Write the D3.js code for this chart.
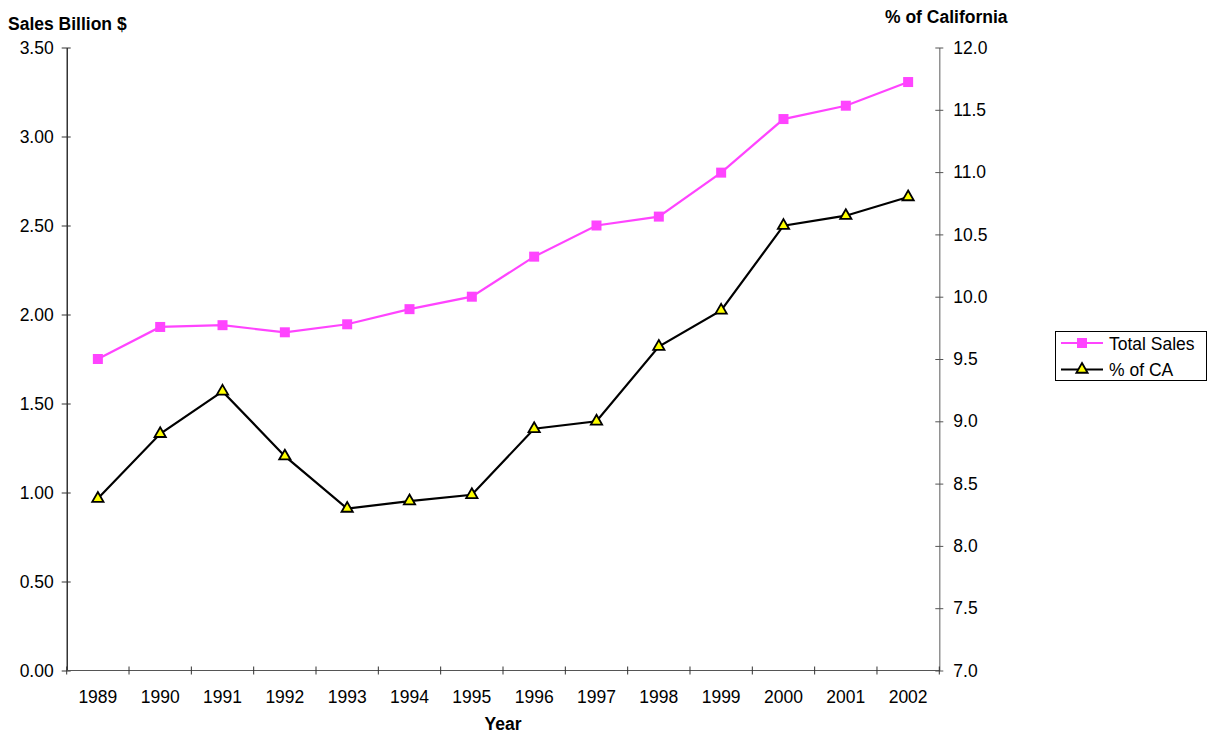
<!DOCTYPE html>
<html>
<head>
<meta charset="utf-8">
<script src="https://cdn.jsdelivr.net/npm/d3@7"></script>
<style>
  html, body { margin: 0; padding: 0; background: #fff; }
  svg { display: block; font-family: "Liberation Sans", Arial, sans-serif; }
</style>
</head>
<body>
<svg id="chart" width="1211" height="734"></svg>
<script>
// Yearly figures
const years = ["1989","1990","1991","1992","1993","1994","1995","1996","1997","1998","1999","2000","2001","2002"];
const totalSales = [1.75, 1.93, 1.94, 1.90, 1.945, 2.03, 2.10, 2.325, 2.50, 2.55, 2.797, 3.098, 3.173, 3.306];
const pctOfCA = [8.38, 8.90, 9.24, 8.72, 8.30, 8.36, 8.41, 8.94, 9.00, 9.60, 9.89, 10.57, 10.65, 10.80];
const leftTicks = [0, 0.5, 1.0, 1.5, 2.0, 2.5, 3.0, 3.5];
const rightTicks = [7.0, 7.5, 8.0, 8.5, 9.0, 9.5, 10.0, 10.5, 11.0, 11.5, 12.0];
const seriesNames = ["Total Sales", "% of CA"];

const svg = d3.select("#chart");
const plot = { left: 66.7, right: 939.3, top: 47.5, bottom: 670.5 };

const x = d3.scaleBand().domain(years).range([plot.left, plot.right]);
const yL = d3.scaleLinear().domain([0, 3.5]).range([plot.bottom, plot.top]);
const yR = d3.scaleLinear().domain([7, 12]).range([plot.bottom, plot.top]);

const fontSize = 17.5;

// Left axis
const leftAxis = svg.append("g")
  .attr("transform", `translate(${plot.left},0)`)
  .call(d3.axisLeft(yL).tickValues(leftTicks).tickFormat(d3.format(".2f")).tickSizeInner(5).tickSizeOuter(0).tickPadding(5));
leftAxis.select(".domain").attr("stroke", "#000").attr("stroke-width", 1.2);
leftAxis.selectAll(".tick line").attr("x2", 4).attr("x1", -5).attr("stroke", "#333");
leftAxis.selectAll(".tick text").attr("font-size", fontSize).attr("fill", "#000").attr("x", -13)
  .attr("font-family", "Liberation Sans, Arial, sans-serif");

// Right axis
const rightAxis = svg.append("g")
  .attr("transform", `translate(${plot.right},0)`)
  .call(d3.axisRight(yR).tickValues(rightTicks).tickFormat(d3.format(".1f")).tickSizeInner(4).tickSizeOuter(0).tickPadding(5));
rightAxis.select(".domain").attr("stroke", "#777").attr("stroke-width", 1.2);
rightAxis.selectAll(".tick line").attr("x1", -4).attr("x2", 4).attr("stroke", "#555");
rightAxis.selectAll(".tick text").attr("font-size", fontSize).attr("fill", "#000").attr("x", 14)
  .attr("font-family", "Liberation Sans, Arial, sans-serif");

// Bottom axis with ticks between categories
const bottom = svg.append("g").attr("transform", `translate(0,${plot.bottom})`);
bottom.append("line").attr("x1", plot.left).attr("x2", plot.right).attr("stroke", "#555").attr("stroke-width", 1.2);
const boundaries = years.map(y => x(y)).concat([plot.right]);
bottom.selectAll("line.tk").data(boundaries).join("line").attr("class", "tk")
  .attr("x1", d => d).attr("x2", d => d).attr("y1", -4).attr("y2", 4).attr("stroke", "#333");
bottom.selectAll("text").data(years).join("text")
  .attr("x", d => x(d) + x.bandwidth() / 2).attr("y", 32)
  .attr("text-anchor", "middle").attr("font-size", fontSize).text(d => d);

// Axis titles
svg.append("text").attr("x", 8).attr("y", 30).attr("font-size", fontSize).attr("font-weight", "bold").text("Sales Billion $");
svg.append("text").attr("x", 885).attr("y", 23).attr("font-size", fontSize).attr("font-weight", "bold").text("% of California");
svg.append("text").attr("x", 503).attr("y", 730).attr("text-anchor", "middle").attr("font-size", fontSize).attr("font-weight", "bold").text("Year");

const cx = d => x(d) + x.bandwidth() / 2;
const pink = "#ff44ff";

// Total Sales line (left scale)
const salesData = years.map((y, i) => ({ y, v: totalSales[i] }));
svg.append("path").datum(salesData)
  .attr("fill", "none").attr("stroke", pink).attr("stroke-width", 2.2)
  .attr("d", d3.line().x(d => cx(d.y)).y(d => yL(d.v)));
svg.selectAll("rect.sales").data(salesData).join("rect").attr("class", "sales")
  .attr("x", d => cx(d.y) - 5).attr("y", d => yL(d.v) - 5)
  .attr("width", 10).attr("height", 10).attr("fill", pink);

// % of CA line (right scale)
const caData = years.map((y, i) => ({ y, v: pctOfCA[i] }));
svg.append("path").datum(caData)
  .attr("fill", "none").attr("stroke", "#000").attr("stroke-width", 2.2)
  .attr("d", d3.line().x(d => cx(d.y)).y(d => yR(d.v)));
const tri = d3.symbol().type(d3.symbolTriangle).size(55);
svg.selectAll("path.ca").data(caData).join("path").attr("class", "ca")
  .attr("transform", d => `translate(${cx(d.y)},${yR(d.v)})`)
  .attr("d", tri).attr("fill", "#ffff00").attr("stroke", "#000").attr("stroke-width", 1.8);

// Legend
const lg = svg.append("g").attr("transform", "translate(1055,331)");
lg.append("rect").attr("x", 0.5).attr("y", 0.5).attr("width", 151).attr("height", 49)
  .attr("fill", "#fff").attr("stroke", "#000").attr("stroke-width", 1);
const rows = [
  { name: seriesNames[0], color: pink },
  { name: seriesNames[1], color: "#000" }
];
rows.forEach((r, i) => {
  const yy = 12 + i * 26.5;
  lg.append("line").attr("x1", 6).attr("x2", 48).attr("y1", yy).attr("y2", yy).attr("stroke", r.color).attr("stroke-width", 2);
  if (i === 0) {
    lg.append("rect").attr("x", 22).attr("y", yy - 5).attr("width", 10).attr("height", 10).attr("fill", pink);
  } else {
    lg.append("path").attr("transform", `translate(27,${yy})`).attr("d", tri)
      .attr("fill", "#ffff00").attr("stroke", "#000").attr("stroke-width", 1.8);
  }
  lg.append("text").attr("x", 54).attr("y", yy + 6.5).attr("font-size", fontSize).text(r.name);
});
</script>
</body>
</html>
